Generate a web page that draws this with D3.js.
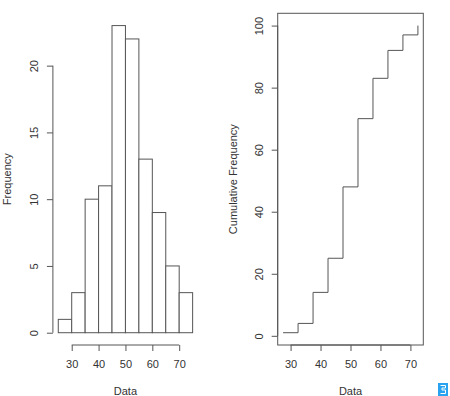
<!DOCTYPE html>
<html><head><meta charset="utf-8">
<script src="https://cdn.jsdelivr.net/npm/d3@7"></script>
<style>body{margin:0;background:#fff}svg{display:block}text{font-family:"Liberation Sans",Arial,sans-serif;fill:#333}</style>
</head><body>
<svg id="c" width="450" height="396"></svg>
<script>
const breaks = [25,30,35,40,45,50,55,60,65,70,75];
const counts = [1,3,10,11,23,22,13,9,5,3];
const mids = [27.5,32.5,37.5,42.5,47.5,52.5,57.5,62.5,67.5,72.5];
const cumFreq = [1,4,14,25,48,70,83,92,97,100];
const xTicks = [30,40,50,60,70];
const yTicksL = [0,5,10,15,20];
const yTicksR = [0,20,40,60,80,100];

const svg = d3.select("#c");
const stroke = "#555";
const fs = 11;

function yAxis(g, scale, ticks, x) {
  const ax = g.append("g").attr("transform", `translate(${x},0)`)
    .call(d3.axisLeft(scale).tickValues(ticks).tickSize(6).tickSizeOuter(0));
  ax.select(".domain").attr("d", `M0,${scale(ticks[0])}V${scale(ticks[ticks.length-1])}`).attr("stroke", stroke);
  ax.selectAll(".tick line").attr("stroke", stroke);
  ax.selectAll(".tick text").attr("x", null).attr("dy", null)
    .attr("transform", "translate(-15,0) rotate(-90)").attr("text-anchor", "middle")
    .style("font-size", fs + "px").style("font-family", '"Liberation Sans",Arial,sans-serif').attr("fill", "#333");
  return ax;
}
function xAxis(g, scale, ticks, y) {
  const ax = g.append("g").attr("transform", `translate(0,${y})`)
    .call(d3.axisBottom(scale).tickValues(ticks).tickSize(6).tickSizeOuter(0));
  ax.select(".domain").attr("d", `M${scale(ticks[0])},0H${scale(ticks[ticks.length-1])}`).attr("stroke", stroke);
  ax.selectAll(".tick line").attr("stroke", stroke);
  ax.selectAll(".tick text").attr("y", 15).attr("dy", "0.71em")
    .style("font-size", fs + "px").style("font-family", '"Liberation Sans",Arial,sans-serif').attr("fill", "#333");
  return ax;
}

// ---- Left: histogram
const pTop = 13.3, pBottom = 345;
const xL = d3.scaleLinear().domain([23, 77]).range([52.9, 198]);
const yL = d3.scaleLinear().domain([-0.92, 23.92]).range([pBottom, pTop]);
const gL = svg.append("g");
gL.selectAll("rect.bar").data(counts).join("rect")
  .attr("class", "bar")
  .attr("x", (d, i) => xL(breaks[i]))
  .attr("width", (d, i) => xL(breaks[i+1]) - xL(breaks[i]))
  .attr("y", d => yL(d))
  .attr("height", d => yL(0) - yL(d))
  .attr("fill", "#fff").attr("stroke", stroke).attr("stroke-width", 1);
yAxis(gL, yL, yTicksL, 52.9);
xAxis(gL, xL, xTicks, pBottom);
gL.append("text").attr("x", (52.9+198)/2).attr("y", 394.5).attr("text-anchor", "middle").style("font-size", fs+"px").text("Data");
gL.append("text").attr("transform", `translate(11,${(pTop+pBottom)/2}) rotate(-90)`).attr("text-anchor", "middle").style("font-size", fs+"px").text("Frequency");

// ---- Right: cumulative step
const xR = d3.scaleLinear().domain([25.7, 74.3]).range([277.7, 423.3]);
const yR = d3.scaleLinear().domain([-2.96, 103.96]).range([pBottom, pTop]);
const gR = svg.append("g");
gR.append("rect").attr("x", xR.range()[0]).attr("y", pTop)
  .attr("width", xR.range()[1]-xR.range()[0]).attr("height", pBottom-pTop)
  .attr("fill", "none").attr("stroke", stroke);
const pts = mids.map((m, i) => [m, cumFreq[i]]);
const line = d3.line().x(d => xR(d[0])).y(d => yR(d[1])).curve(d3.curveStepAfter);
gR.append("path").datum(pts).attr("d", line).attr("fill", "none").attr("stroke", stroke).attr("stroke-width", 1);
yAxis(gR, yR, yTicksR, 277.7);
xAxis(gR, xR, xTicks, pBottom);
gR.append("text").attr("x", (277.7+423.3)/2).attr("y", 394.5).attr("text-anchor", "middle").style("font-size", fs+"px").text("Data");
gR.append("text").attr("transform", `translate(237,${(pTop+pBottom)/2}) rotate(-90)`).attr("text-anchor", "middle").style("font-size", fs+"px").text("Cumulative Frequency");

// small corner icon
const ic = svg.append("g").attr("transform", "translate(438,383)");
ic.append("rect").attr("width", 10).attr("height", 13).attr("fill", "#29a3f0");
ic.append("path").attr("d", "M2.5,2.5H7.5V5H4V7H7.5V10.5H2.5").attr("fill", "none").attr("stroke", "#fff").attr("stroke-width", 1);
</script>
</body></html>
